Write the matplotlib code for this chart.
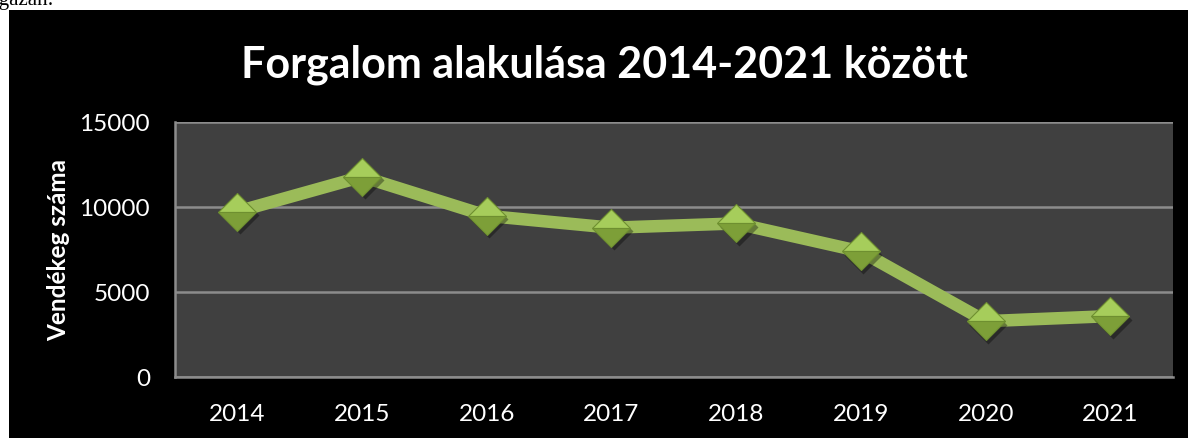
import matplotlib.pyplot as plt
from matplotlib.patches import Rectangle

years = ['2014', '2015', '2016', '2017', '2018', '2019', '2020', '2021']
guests = [9750, 11800, 9500, 8800, 9050, 7400, 3300, 3600]
y_ticks = [0, 5000, 10000, 15000]

plt.rcParams['font.family'] = ['Lato', 'DejaVu Sans']

W, H = 1188, 438
fig = plt.figure(figsize=(W / 100, H / 100), dpi=100, facecolor='white')

# black chart frame (the chart sits on a white document page)
fig.patches.append(Rectangle((9 / W, 0), (W - 9) / W, (H - 10) / H,
                             transform=fig.transFigure, facecolor='black',
                             edgecolor='none', zorder=-1))
# cut-off text from the page above the chart
fig.text(-6 / W, 1 - 5 / H, 'igazán:', family='Liberation Serif', fontsize=15,
         color='black', ha='left', va='baseline')

ax = fig.add_axes([175 / W, 60.7 / H, 997.7 / W, 255 / H])
ax.set_facecolor('#404040')

x = list(range(len(years)))
ax.plot(x, guests, color='#9BBB59', lw=9, solid_capstyle='butt', zorder=3)
# marker shadow
ax.plot([v + 0.02 for v in x], [g - 200 for g in guests], ls='none', marker='D',
        ms=19, color='black', alpha=0.35, mec='none', zorder=4)
# bevelled diamond: lighter top half, darker bottom half
ax.plot(x, guests, ls='none', marker='D', ms=19, fillstyle='top',
        mfc='#A6CD5B', mfcalt='#7D9F38', mec='#6E8F30', mew=0.8, zorder=5)

ax.set_xlim(-0.5, len(years) - 0.5)
ax.set_ylim(0, 15000)
ax.set_yticks(y_ticks)
ax.set_xticks(x)
ax.set_xticklabels(years)
ax.grid(axis='y', color='#8C8C8C', lw=1.8, zorder=1)
ax.set_axisbelow(True)
for s in ['top', 'right']:
    ax.spines[s].set_visible(False)
for s in ['left', 'bottom']:
    ax.spines[s].set_color('#8C8C8C')
    ax.spines[s].set_linewidth(1.8)
ax.tick_params(length=0, colors='white', labelsize=17.5)
ax.tick_params(axis='y', pad=18)
ax.tick_params(axis='x', pad=19)

ax.set_ylabel('Vendékeg száma', color='white', fontsize=17.5, fontweight='bold',
              labelpad=7)

fig.text(0.509, 1 - 65 / H, 'Forgalom alakulása 2014-2021 között', color='white',
         fontsize=31, fontweight='bold', ha='center', va='center')

fig.savefig('out.png', dpi=100, facecolor='white')
